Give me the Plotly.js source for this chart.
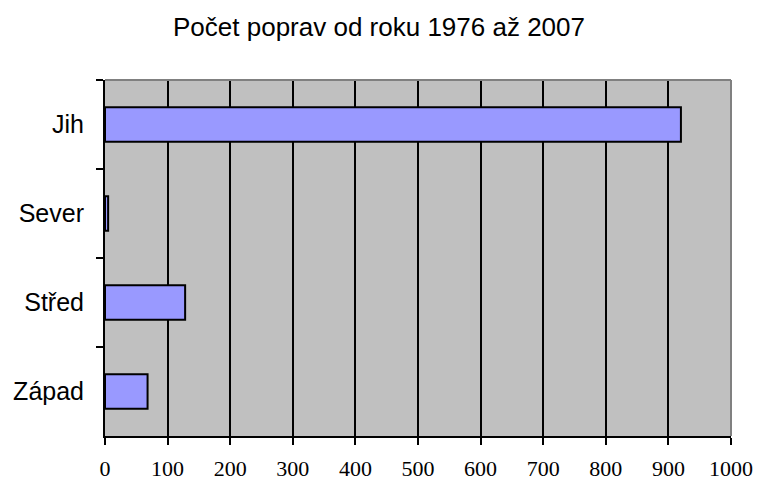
<!DOCTYPE html>
<html>
<head>
<meta charset="utf-8">
<script src="https://cdn.plot.ly/plotly-3.0.1.min.js"></script>
<style>html,body{margin:0;padding:0;background:#fff;}#chart{width:758px;height:481px;}</style>
</head>
<body>
<div id="chart"></div>
<script>
const categories = ["Jih", "Sever", "Střed", "Západ"];
const values = [920, 5, 128, 68];
const xTicks = [0, 100, 200, 300, 400, 500, 600, 700, 800, 900, 1000];
const titleText = "Počet poprav od roku 1976 až 2007";

const trace = {
  type: "bar",
  orientation: "h",
  y: categories,
  x: values,
  width: 0.39,
  marker: { color: "#9999FF", line: { color: "#000000", width: 2 } },
  hoverinfo: "skip"
};

const layout = {
  width: 758,
  height: 481,
  margin: { l: 105, r: 27, t: 80, b: 45, pad: 0 },
  paper_bgcolor: "#ffffff",
  plot_bgcolor: "#C0C0C0",
  showlegend: false,
  title: {
    text: titleText,
    font: { family: "Liberation Sans, Arial, sans-serif", size: 26, color: "#000" },
    x: 0.5, xanchor: "center", y: 0.945, yanchor: "middle"
  },
  xaxis: {
    range: [0, 1000],
    tickvals: xTicks,
    ticktext: xTicks.map(String),
    showgrid: true,
    gridcolor: "#000000",
    gridwidth: 2,
    showline: true,
    linecolor: "#000000",
    linewidth: 2,
    ticks: "outside",
    ticklen: 7,
    tickwidth: 2,
    tickcolor: "#000",
    ticklabelstandoff: 5,
    zeroline: false,
    tickfont: { family: "Liberation Serif, Times New Roman, serif", size: 22, color: "#000" },
    fixedrange: true
  },
  yaxis: {
    type: "category",
    categoryorder: "array",
    categoryarray: categories,
    autorange: "reversed",
    showgrid: false,
    showline: true,
    linecolor: "#000000",
    linewidth: 2,
    ticks: "outside",
    tickson: "boundaries",
    ticklen: 7,
    tickwidth: 2,
    tickcolor: "#000",
    ticklabelstandoff: 14,
    zeroline: false,
    tickfont: { family: "Liberation Sans, Arial, sans-serif", size: 25, color: "#000" },
    fixedrange: true
  },
  shapes: [
    { type: "line", xref: "paper", yref: "paper", x0: 0, x1: 1, y0: 1, y1: 1, line: { color: "#808080", width: 2 }, layer: "above" },
    { type: "line", xref: "paper", yref: "paper", x0: 1, x1: 1, y0: 0, y1: 1, line: { color: "#808080", width: 2 }, layer: "above" }
  ]
};

Plotly.newPlot("chart", [trace], layout, { displayModeBar: false, staticPlot: true });
</script>
</body>
</html>
